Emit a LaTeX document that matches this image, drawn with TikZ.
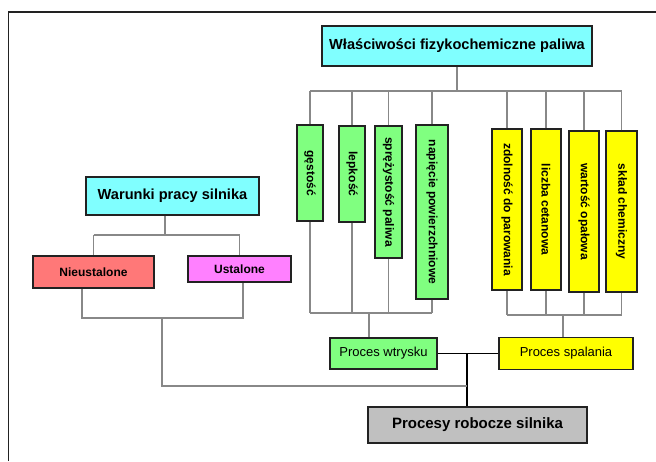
\documentclass[tikz,border=0pt]{standalone}
\usepackage{fontspec}
\setmainfont{Liberation Sans}
\usepackage{graphicx}
\definecolor{cCyan}{HTML}{80FFFF}
\definecolor{cGreen}{HTML}{80FF80}
\definecolor{cYellow}{HTML}{FFFF00}
\definecolor{cRed}{HTML}{FF7878}
\definecolor{cMag}{HTML}{FF80FF}
\definecolor{cGray}{HTML}{C0C0C0}
\definecolor{cLine}{HTML}{888888}
\definecolor{cBorder}{HTML}{222222}
\tikzset{
  box/.style={draw=cBorder, line width=1.5pt, inner sep=0pt, align=center},
  conn/.style={draw=cLine, line width=1.3pt},
  connb/.style={draw=black, line width=1.4pt},
  vtext/.style={font=\fontsize{12}{12}\selectfont\bfseries},
}
\newcommand{\vt}[1]{\rotatebox{-90}{#1}}
\begin{document}
\begin{tikzpicture}[x=1pt,y=-1pt]
\useasboundingbox (0,0) rectangle (656,461);
% frame
\draw[draw=cBorder, line width=1.6pt] (8.5,461) -- (8.5,12) -- (656,12);

% top
\node[box, fill=cCyan, minimum width=270, minimum height=40, font=\fontsize{14.6}{15}\selectfont\bfseries] (top) at (457,46) {Właściwości fizykochemiczne paliwa};

% green boxes
\node[box, fill=cGreen, minimum width=26, minimum height=96, vtext] (g1) at (310,173) {\vt{gęstość}};
\node[box, fill=cGreen, minimum width=26, minimum height=96, vtext] (g2) at (352,174) {\vt{lepkość}};
\node[box, fill=cGreen, minimum width=27, minimum height=132, vtext] (g3) at (388.5,192) {\vt{sprężystość paliwa}};
\node[box, fill=cGreen, minimum width=32, minimum height=174, vtext] (g4) at (432,212) {\vt{napięcie powierzchniowe}};

% yellow boxes
\node[box, fill=cYellow, minimum width=30, minimum height=161, vtext] (y1) at (507,209.5) {\vt{zdolność do parowania}};
\node[box, fill=cYellow, minimum width=30, minimum height=161, vtext] (y2) at (546,209.5) {\vt{liczba cetanowa}};
\node[box, fill=cYellow, minimum width=30, minimum height=161, vtext] (y3) at (584,211.5) {\vt{wartość opałowa}};
\node[box, fill=cYellow, minimum width=31, minimum height=161, vtext] (y4) at (621.5,211.5) {\vt{skład chemiczny}};

% process boxes
\node[box, fill=cGreen, minimum width=107, minimum height=31, font=\fontsize{13}{13}\selectfont] (wtr) at (383.5,353.5) {Proces wtrysku};
\node[box, fill=cYellow, minimum width=134, minimum height=32, font=\fontsize{13}{13}\selectfont] (spal) at (566,353.5) {Proces spalania};
\node[box, fill=cGray, minimum width=219, minimum height=36, font=\fontsize{15}{15}\selectfont\bfseries] (rob) at (477.5,425) {Procesy robocze silnika};

% left
\node[box, fill=cCyan, minimum width=173, minimum height=38, font=\fontsize{14.6}{15}\selectfont\bfseries] (war) at (172.5,196) {Warunki pracy silnika};
\node[box, fill=cRed, minimum width=121, minimum height=32, font=\fontsize{12}{12}\selectfont\bfseries] (nieu) at (93.5,272) {Nieustalone};
\node[box, fill=cMag, minimum width=103, minimum height=26, font=\fontsize{12}{12}\selectfont\bfseries] (ust) at (239.5,269) {Ustalone};

% coordinates
\coordinate (busT) at (457,91);
\coordinate (busG) at (369,313);
\coordinate (busY) at (563,315);
\coordinate (j) at (467,353.5);
\coordinate (busL) at (165,235);
\coordinate (busL2) at (162,318);
\coordinate (cornerL) at (162,386);

% top tree
\draw[conn] (top.south) -- (busT);
\draw[conn] (g1.north |- busT) -- (y4.north |- busT);
\foreach \n in {g1,g2,g3,g4,y1,y2,y3,y4}{
  \draw[conn] (\n.north) -- (\n.north |- busT);
}
% green bus
\foreach \n in {g1,g2,g3,g4}{
  \draw[conn] (\n.south) -- (\n.south |- busG);
}
\draw[conn] (g1.south |- busG) -- (g4.south |- busG);
\draw[conn] (busG) -- (busG |- wtr.north);
% yellow bus
\foreach \n in {y1,y2,y3,y4}{
  \draw[conn] (\n.south) -- (\n.south |- busY);
}
\draw[conn] (y1.south |- busY) -- (y4.south |- busY);
\draw[conn] (busY) -- (busY |- spal.north);

% center
\draw[connb] (wtr.east) -- (spal.west);
\draw[connb] (j) -- (j |- rob.north);

% left tree
\draw[conn] (busL |- war.south) -- (busL);
\draw[conn] (nieu.north |- busL) -- (ust.north |- busL);
\draw[conn] (nieu.north |- busL) -- (nieu.north);
\draw[conn] (ust.north |- busL) -- (ust.north);
\draw[conn] (82,0 |- nieu.south) -- (82,318) -- (243,318) -- (243,0 |- ust.south);
\draw[conn] (busL2) -- (cornerL) -- (cornerL -| j);
\end{tikzpicture}
\end{document}
